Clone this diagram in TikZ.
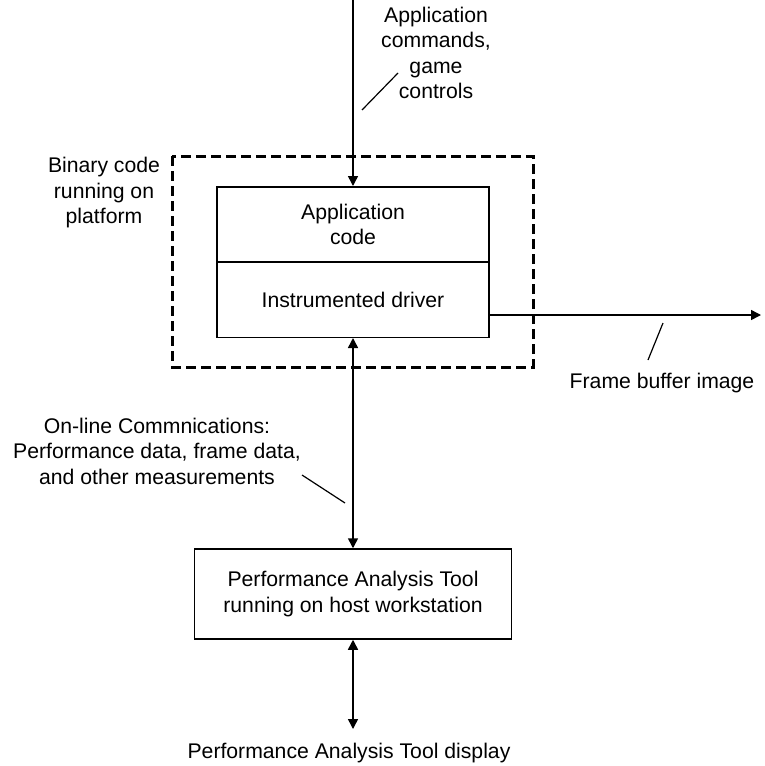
\documentclass[tikz,border=0pt]{standalone}
\usepackage{fontspec}
\setmainfont{Liberation Sans}
\usetikzlibrary{arrows.meta}
\begin{document}
\begin{tikzpicture}[x=1pt,y=-1pt,
  every node/.style={font=\fontsize{21.2}{25.5}\selectfont, inner sep=0pt},
  txt/.style={align=center},
  blk/.style={draw, line width=1.5pt},
  link/.style={line width=1.5pt},
  tip/.style={-{Triangle[length=10pt,width=10pt]}},
  tips/.style={{Triangle[length=10pt,width=10pt]}-{Triangle[length=10pt,width=10pt]}},
  lead/.style={line width=1.2pt},
  frame/.style={draw, line width=3pt, dash pattern=on 10pt off 5pt}]
\useasboundingbox (0,0) rectangle (764,766);

% platform enclosure
\draw[frame] (172,156) rectangle (533,367);

% application + driver stack
\node[blk, minimum width=272pt, minimum height=75.5pt] (app) at (353,224.5) {};
\node[blk, minimum width=272pt, minimum height=75.5pt] (drv) at (353,299.5) {};
\node[txt] at (app.center) {Application\\code};
\node[txt] at (drv.center) {Instrumented driver};

% host tool box
\node[blk, minimum width=317pt, minimum height=90pt, txt] (pat) at (353,594)
  {Performance Analysis Tool\\running on host workstation};

% end points
\coordinate (in) at (353,0);
\coordinate (fb) at (761,315);
\coordinate (disp) at (353,729);

% connectors
\draw[link,tip] (in) -- (app.north);
\draw[link,tip] (drv.east |- fb) -- (fb);
\draw[link,tips] (drv.south) -- (pat.north);
\draw[link,tips] (pat.south) -- (disp);

% labels
\node[txt] (cmd) at (436,53) {Application\\commands,\\game\\controls};
\node[txt] (bin) at (104,193) {Binary code\\running on\\platform};
\node[txt] (fbl) at (662,383) {Frame buffer image};
\node[txt] (com) at (157,451) {On-line Commnications:\\Performance data, frame data,\\and other measurements};
\node[txt] (dsl) at (349,753) {Performance Analysis Tool display};

% leader lines
\coordinate (c1) at (362,110); \coordinate (c2) at (398,73);
\draw[lead] (c1) -- (c2);
\coordinate (f1) at (663,323); \coordinate (f2) at (648,360);
\draw[lead] (f1) -- (f2);
\coordinate (o1) at (302,475); \coordinate (o2) at (345,503);
\draw[lead] (o1) -- (o2);
\end{tikzpicture}
\end{document}
